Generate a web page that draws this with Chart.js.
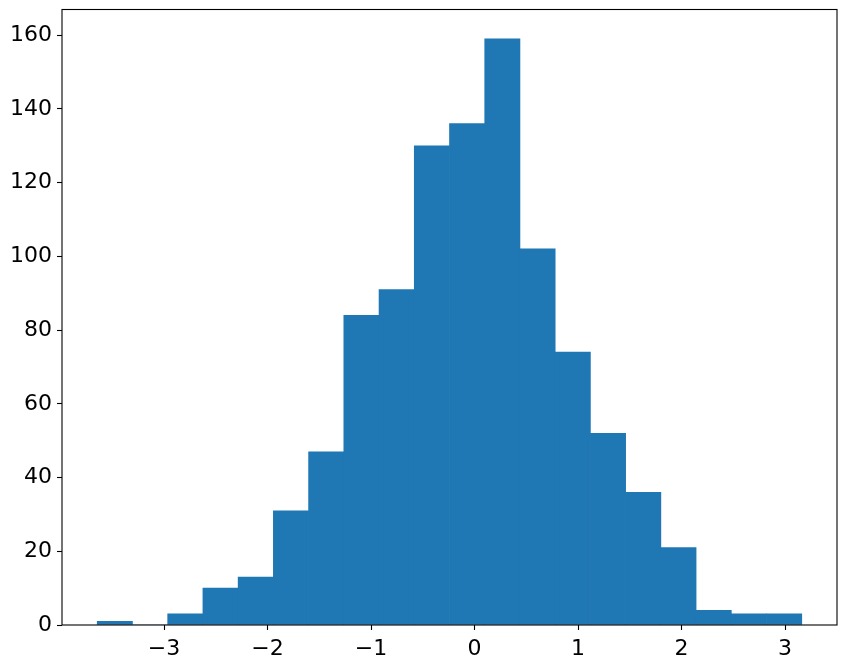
<!DOCTYPE html>
<html>
<head>
<meta charset="utf-8">
<script src="https://cdn.jsdelivr.net/npm/chart.js@4"></script>
<style>
html,body{margin:0;padding:0;background:#fff;}
canvas{display:block;}
</style>
</head>
<body>
<canvas id="c" width="846" height="667"></canvas>
<script>
// Histogram data (20 equal bins)
const binStart = -3.646;
const binWidth = 0.3404;
const counts = [1, 0, 3, 10, 13, 31, 47, 84, 91, 130, 136, 159, 102, 74, 52, 36, 21, 4, 3, 3];
const xTickValues = [-3, -2, -1, 0, 1, 2, 3];
const yTickValues = [0, 20, 40, 60, 80, 100, 120, 140, 160];

const binCenters = counts.map((_, i) => binStart + binWidth * (i + 0.5));
const points = counts.map((c, i) => ({x: binCenters[i], y: c}));
const dataMin = binStart, dataMax = binStart + binWidth * counts.length;
const span = dataMax - dataMin;
const xMin = dataMin - 0.05 * span, xMax = dataMax + 0.05 * span;
const yMax = Math.max(...counts) * 1.05;

const fmt = v => v < 0 ? '\u2212' + Math.abs(v) : String(v);

const frame = {
  id: 'frame',
  afterDraw(chart) {
    const a = chart.chartArea, ctx = chart.ctx;
    ctx.save();
    ctx.strokeStyle = '#000';
    ctx.lineWidth = 1.1;
    ctx.strokeRect(a.left, a.top, a.right - a.left, a.bottom - a.top);
    ctx.restore();
  }
};

new Chart(document.getElementById('c'), {
  type: 'bar',
  data: {
    datasets: [{
      data: points,
      backgroundColor: '#1f77b4',
      borderWidth: 0,
      barPercentage: 1.0,
      categoryPercentage: 1.0
    }]
  },
  options: {
    responsive: false,
    animation: false,
    devicePixelRatio: 1,
    layout: {padding: {top: 9.5, right: 9, left: 0, bottom: 0}},
    plugins: {legend: {display: false}, tooltip: {enabled: false}},
    scales: {
      x: {
        type: 'linear',
        min: xMin, max: xMax,
        offset: false,
        afterBuildTicks: s => { s.ticks = xTickValues.map(v => ({value: v})); },
        afterFit: s => { s.height = 42; s.paddingLeft = 0; s.paddingRight = 0; },
        grid: {offset: false, drawOnChartArea: false, drawTicks: true, tickLength: 5, color: '#000', tickWidth: 1.1},
        border: {display: false},
        ticks: {
          color: '#000', padding: 6, maxRotation: 0, autoSkip: false,
          font: {family: 'DejaVu Sans', size: 22},
          callback: v => fmt(v)
        }
      },
      y: {
        min: 0, max: yMax,
        afterBuildTicks: s => { s.ticks = yTickValues.map(v => ({value: v})); },
        afterFit: s => { s.width = 62; s.paddingTop = 0; s.paddingBottom = 0; },
        grid: {offset: false, drawOnChartArea: false, drawTicks: true, tickLength: 5, color: '#000', tickWidth: 1.1},
        border: {display: false},
        ticks: {
          color: '#000', padding: 5, autoSkip: false,
          font: {family: 'DejaVu Sans', size: 22},
          callback: v => fmt(v)
        }
      }
    }
  },
  plugins: [frame]
});
</script>
</body>
</html>
